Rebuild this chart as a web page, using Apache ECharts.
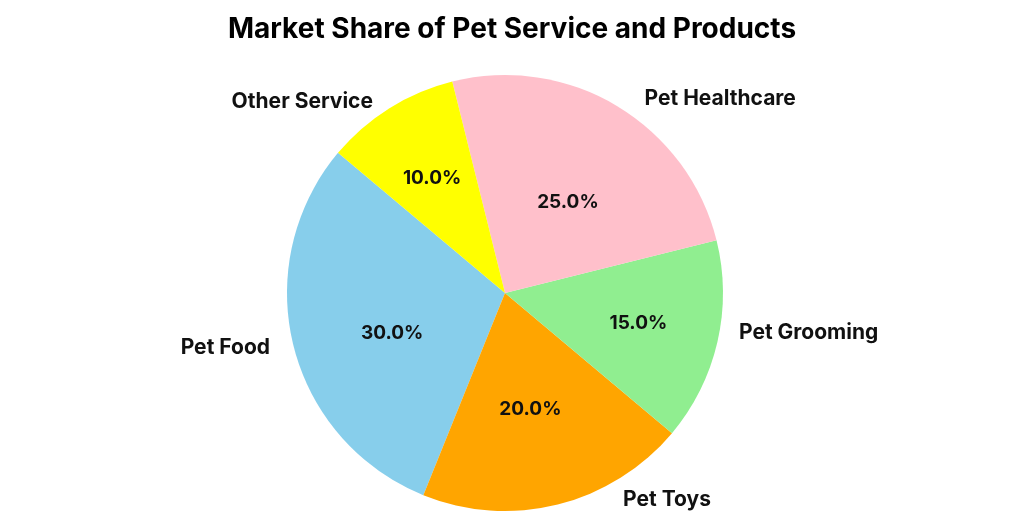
<!DOCTYPE html>
<html>
<head>
<meta charset="utf-8">
<script src="https://cdn.jsdelivr.net/npm/echarts@6/dist/echarts.min.js"></script>
<style>
  html, body { margin: 0; padding: 0; background: #fff; }
  #chart { width: 1024px; height: 527px; }
</style>
</head>
<body>
<div id="chart"></div>
<script>
// 数据
const categories = ['Pet Food', 'Pet Toys', 'Pet Grooming', 'Pet Healthcare', 'Other Service']
const shares = [30, 20, 15, 25, 10]
const colors = ['#87CEEB', '#FFA500', '#90EE90', '#FFC0CB', '#FFFF00']

// 标签微调偏移（像素）
const nameShift = [[-1, -2], [56, -22], [-1, -13], [13, 8], [-2, 9]]
const pctShift = [[17, 8], [-7, -14], [3, 0], [-6, 24], [-2, -1]]

const R = 218
const center = [505, 293]
const font = 'Inter, "Liberation Sans", sans-serif'

const chart = echarts.init(document.getElementById('chart'))

const option = {
  animation: false,
  title: {
    text: 'Market Share of Pet Service and Products',
    left: 'center',
    top: 11,
    textStyle: { fontFamily: font, fontSize: 28, fontWeight: 'bold', color: '#000' }
  },
  series: [
    {
      // 主饼图 + 外部标签
      type: 'pie',
      center,
      radius: [0, R],
      startAngle: 140,
      clockwise: false,
      avoidLabelOverlap: false,
      itemStyle: { borderWidth: 0 },
      label: {
        show: true,
        position: 'outside',
        formatter: '{b}',
        fontFamily: font,
        fontSize: 21,
        fontWeight: 'bold',
        color: '#111'
      },
      labelLine: { show: false, length: 18, length2: 0 },
      labelLayout: p => ({ dx: nameShift[p.dataIndex][0], dy: nameShift[p.dataIndex][1] }),
      emphasis: { disabled: true },
      data: categories.map((name, i) => ({ name, value: shares[i], itemStyle: { color: colors[i] } }))
    },
    {
      // 百分比标签
      type: 'pie',
      center,
      radius: [0, R * 1.2],
      startAngle: 140,
      clockwise: false,
      silent: true,
      avoidLabelOverlap: false,
      itemStyle: { color: 'rgba(0,0,0,0)', borderWidth: 0 },
      label: {
        show: true,
        position: 'inside',
        formatter: p => p.value.toFixed(1) + '%',
        fontFamily: font,
        fontSize: 19,
        fontWeight: 'bold',
        color: '#111'
      },
      labelLine: { show: false },
      labelLayout: p => ({ dx: pctShift[p.dataIndex][0], dy: pctShift[p.dataIndex][1] }),
      data: categories.map((name, i) => ({ name, value: shares[i] }))
    }
  ]
}

chart.setOption(option)
</script>
</body>
</html>
